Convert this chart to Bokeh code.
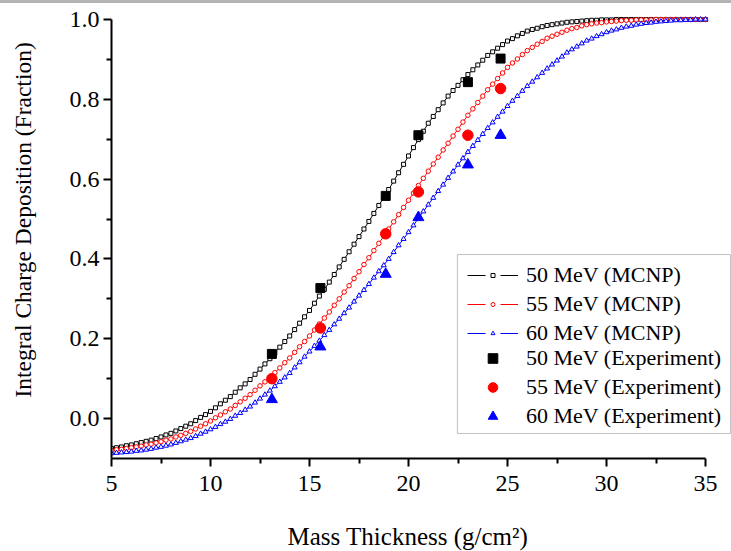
import numpy as np
from bokeh.plotting import figure
from bokeh.models import (Range1d, FixedTicker, PrintfTickFormatter, Legend, LegendItem,
                          BoxAnnotation, Div, Title)
from bokeh.layouts import column
from bokeh.embed import file_html
from bokeh.resources import INLINE

# ---------------- data ----------------
# MCNP sampling grid: every 0.25 g/cm^2 from 5 to 35
thickness = np.arange(5.0, 35.0 + 0.125, 0.25)

mcnp_50 = [
    -0.075, -0.073, -0.071, -0.068,
    -0.066, -0.063, -0.060, -0.057,
    -0.054, -0.050, -0.046, -0.041,
    -0.037, -0.031, -0.025, -0.019,
    -0.013, -0.005, 0.003, 0.010,
    0.018, 0.027, 0.037, 0.046,
    0.055, 0.066, 0.077, 0.087,
    0.098, 0.111, 0.124, 0.137,
    0.150, 0.164, 0.179, 0.193,
    0.207, 0.223, 0.239, 0.255,
    0.271, 0.289, 0.307, 0.324,
    0.342, 0.361, 0.380, 0.399,
    0.418, 0.437, 0.456, 0.475,
    0.494, 0.514, 0.534, 0.554,
    0.574, 0.595, 0.616, 0.637,
    0.658, 0.679, 0.699, 0.720,
    0.740, 0.757, 0.774, 0.791,
    0.808, 0.822, 0.835, 0.849,
    0.862, 0.874, 0.886, 0.898,
    0.910, 0.919, 0.928, 0.937,
    0.946, 0.952, 0.959, 0.965,
    0.971, 0.975, 0.978, 0.982,
    0.985, 0.987, 0.989, 0.991,
    0.993, 0.994, 0.995, 0.996,
    0.997, 0.998, 0.998, 0.999,
    0.999, 0.999, 1.000, 1.000,
    1.000, 1.000, 1.000, 1.000,
    1.000, 1.000, 1.000, 1.000,
    1.000, 1.000, 1.000, 1.000,
    1.000, 1.000, 1.000, 1.000,
    1.000,
]

mcnp_55 = [
    -0.080, -0.078, -0.077, -0.075,
    -0.073, -0.071, -0.069, -0.066,
    -0.064, -0.061, -0.058, -0.054,
    -0.051, -0.046, -0.042, -0.037,
    -0.032, -0.026, -0.019, -0.013,
    -0.006, 0.002, 0.009, 0.017,
    0.024, 0.033, 0.042, 0.051,
    0.060, 0.071, 0.082, 0.092,
    0.103, 0.115, 0.127, 0.140,
    0.152, 0.166, 0.180, 0.193,
    0.207, 0.222, 0.237, 0.252,
    0.267, 0.284, 0.300, 0.317,
    0.333, 0.351, 0.368, 0.386,
    0.403, 0.421, 0.439, 0.457,
    0.475, 0.493, 0.511, 0.529,
    0.547, 0.565, 0.584, 0.602,
    0.620, 0.638, 0.655, 0.673,
    0.690, 0.708, 0.725, 0.743,
    0.760, 0.776, 0.792, 0.808,
    0.824, 0.838, 0.852, 0.866,
    0.880, 0.891, 0.901, 0.912,
    0.922, 0.930, 0.938, 0.945,
    0.953, 0.958, 0.963, 0.968,
    0.973, 0.977, 0.980, 0.984,
    0.987, 0.989, 0.991, 0.992,
    0.994, 0.995, 0.996, 0.997,
    0.998, 0.998, 0.999, 0.999,
    0.999, 0.999, 1.000, 1.000,
    1.000, 1.000, 1.000, 1.000,
    1.000, 1.000, 1.000, 1.000,
    1.000,
]

mcnp_60 = [
    -0.087, -0.086, -0.085, -0.084,
    -0.083, -0.081, -0.080, -0.078,
    -0.076, -0.073, -0.071, -0.068,
    -0.065, -0.061, -0.057, -0.053,
    -0.049, -0.044, -0.038, -0.033,
    -0.027, -0.021, -0.014, -0.008,
    -0.001, 0.007, 0.014, 0.022,
    0.030, 0.040, 0.050, 0.060,
    0.070, 0.081, 0.092, 0.103,
    0.114, 0.128, 0.141, 0.155,
    0.168, 0.182, 0.195, 0.209,
    0.222, 0.236, 0.250, 0.264,
    0.278, 0.293, 0.308, 0.322,
    0.337, 0.353, 0.369, 0.384,
    0.400, 0.417, 0.434, 0.450,
    0.467, 0.484, 0.502, 0.519,
    0.536, 0.553, 0.570, 0.586,
    0.603, 0.619, 0.636, 0.652,
    0.668, 0.683, 0.698, 0.713,
    0.728, 0.742, 0.756, 0.769,
    0.783, 0.796, 0.808, 0.821,
    0.833, 0.844, 0.855, 0.866,
    0.877, 0.887, 0.897, 0.907,
    0.917, 0.925, 0.932, 0.940,
    0.947, 0.952, 0.958, 0.963,
    0.968, 0.972, 0.975, 0.979,
    0.982, 0.984, 0.987, 0.989,
    0.991, 0.992, 0.994, 0.995,
    0.996, 0.997, 0.998, 0.998,
    0.999, 0.999, 1.000, 1.000,
    1.000,
]

exp_thickness = [13.1, 15.55, 18.85, 20.5, 23.0, 24.65]
exp_50 = [0.162, 0.327, 0.558, 0.710, 0.843, 0.902]
exp_55 = [0.100, 0.227, 0.463, 0.568, 0.710, 0.827]
exp_60 = [0.048, 0.180, 0.362, 0.504, 0.636, 0.710]

mcnp_labels = ["50 MeV (MCNP)", "55 MeV (MCNP)", "60 MeV (MCNP)"]
exp_labels = ["50 MeV (Experiment)", "55 MeV (Experiment)", "60 MeV (Experiment)"]

x_ticks = [5, 10, 15, 20, 25, 30, 35]
x_minor_ticks = [7.5, 12.5, 17.5, 22.5, 27.5, 32.5]
y_ticks = [0.0, 0.2, 0.4, 0.6, 0.8, 1.0]
y_minor_ticks = [0.1, 0.3, 0.5, 0.7, 0.9]

y_title = "Integral Charge Deposition (Fraction)"
x_title = "Mass Thickness (g/cm\u00b2)"

# ---------------- styling ----------------
FONT = "Liberation Serif"
colors = ["#000000", "#ff0000", "#0000ff"]
markers = ["square", "circle", "triangle"]
mcnp_sizes = [4, 4.5, 5]
exp_sizes = [9, 10.5, 11]

p = figure(width=731, height=548, output_backend="svg", toolbar_location=None,
           x_range=Range1d(5, 36.313), y_range=Range1d(-0.1, 1.0225),
           min_border_left=111, min_border_right=0, min_border_top=7,
           min_border_bottom=93)
p.outline_line_color = None
p.grid.visible = False
p.background_fill_color = "white"
p.border_fill_color = "white"

for ax in (p.xaxis[0], p.yaxis[0]):
    ax.axis_line_color = "black"
    ax.axis_line_width = 2
    ax.major_tick_line_color = "black"
    ax.minor_tick_line_color = "black"
    ax.major_tick_line_width = 2
    ax.minor_tick_line_width = 2
    ax.major_tick_in = 0
    ax.major_tick_out = 8
    ax.minor_tick_in = 0
    ax.minor_tick_out = 5
    ax.major_label_text_font = FONT
    ax.major_label_text_font_size = "24px"
    ax.major_label_text_color = "black"

p.xaxis.ticker = FixedTicker(ticks=x_ticks, minor_ticks=x_minor_ticks)
p.yaxis.ticker = FixedTicker(ticks=y_ticks, minor_ticks=y_minor_ticks)
p.xaxis.bounds = (5, 35)
p.yaxis.bounds = (-0.1, 1.0)
p.yaxis.formatter = PrintfTickFormatter(format="%.1f")
p.xaxis.major_label_standoff = 9
p.yaxis.major_label_standoff = 4

# MCNP curves
mcnp_series = [mcnp_50, mcnp_55, mcnp_60]
mcnp_items = []
for vals, c, m, s, lab in zip(mcnp_series, colors, markers, mcnp_sizes, mcnp_labels):
    p.line(thickness, vals, line_color=c, line_width=1)
    sr = p.scatter(thickness, vals, marker=m, size=s, line_color=c,
                   fill_color="white", line_width=1)
    # zero-length segments: invisible in the plot, give the legend its broken line
    dl = p.segment(x0=thickness, y0=vals, x1=thickness, y1=vals, line_color=c,
                   line_width=1, line_dash="18 15", line_cap="butt")
    mcnp_items.append(LegendItem(label=lab, renderers=[dl, sr]))

# Experimental points
exp_series = [exp_50, exp_55, exp_60]
exp_items = []
for vals, c, m, s, lab in zip(exp_series, colors, markers, exp_sizes, exp_labels):
    er = p.scatter(exp_thickness, vals, marker=m, size=s, color=c)
    exp_items.append(LegendItem(label=lab, renderers=[er]))

# Legend frame (white box with thin border)
box = BoxAnnotation(left=22.47, right=36.26, top=0.411, bottom=-0.0373,
                    fill_color="white", fill_alpha=1.0,
                    line_color="#333333", line_width=1)
p.add_layout(box)

common = dict(glyph_width=51, label_height=25, spacing=3, padding=0, margin=0,
              label_standoff=8, border_line_color=None, background_fill_alpha=0,
              label_text_font=FONT, label_text_font_size="22px",
              label_text_color="black")
leg_a = Legend(items=mcnp_items, location=(356, 112.5), glyph_height=10, **common)
leg_b = Legend(items=exp_items, location=(356, 29.5), glyph_height=24, **common)
p.add_layout(leg_a)
p.add_layout(leg_b)

# Axis titles: a thin blank spacer panel pushes each title away from its axis
p.add_layout(Title(text=" ", standoff=28, text_font_size="1px"), "left")
p.add_layout(Title(text=y_title, align="left", offset=61, standoff=0,
                   text_font=FONT, text_font_size="23.5px",
                   text_font_style="normal", text_color="black"), "left")
p.add_layout(Title(text=" ", standoff=24, text_font_size="1px"), "below")
p.add_layout(Title(text=x_title, align="left", offset=176, standoff=0,
                   text_font=FONT, text_font_size="25px",
                   text_font_style="normal", text_color="black"), "below")

bar = Div(text="", width=731, height=3, margin=(0, 0, 0, 0),
          styles={"background-color": "#b4b4b4"})
layout = column(bar, p, spacing=0)

open("out.html", "w").write(file_html(layout, INLINE))
